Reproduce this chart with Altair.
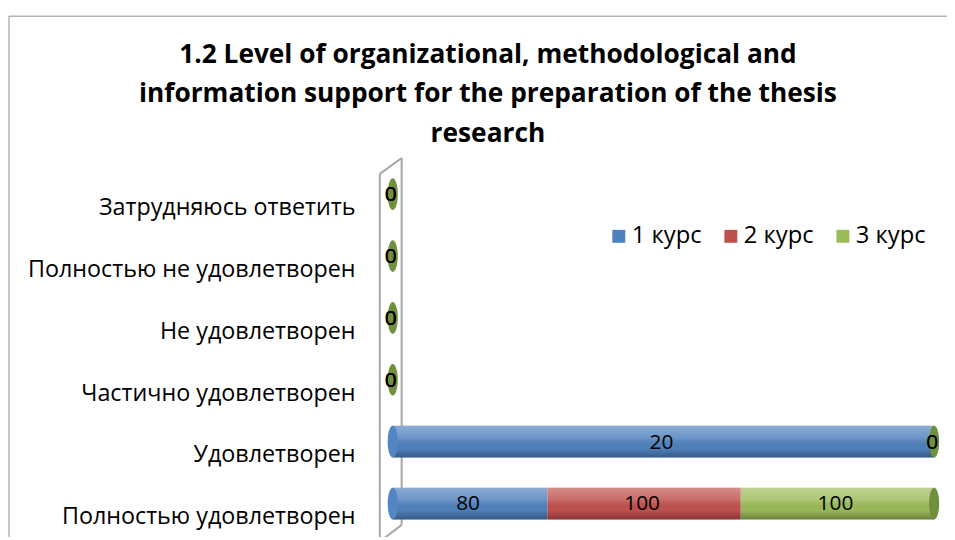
import altair as alt
import pandas as pd

categories = ["Затрудняюсь ответить", "Полностью не удовлетворен", "Не удовлетворен",
              "Частично удовлетворен", "Удовлетворен", "Полностью удовлетворен"]
series = ["1 курс", "2 курс", "3 курс"]
course1 = [0, 0, 0, 0, 20, 80]
course2 = [0, 0, 0, 0, 0, 100]
course3 = [0, 0, 0, 0, 0, 100]
colors = ["#4F81BD", "#C0504D", "#9BBB59"]
title_lines = ["1.2 Level of organizational, methodological and",
               "information support for the preparation of the thesis",
               "research"]

rows = []
for s_i, (s, vals) in enumerate(zip(series, [course1, course2, course3])):
    for c, v in zip(categories, vals):
        rows.append({"category": c, "series": s, "order": s_i, "value": v})
df = pd.DataFrame(rows)

FONT = "Open Sans"
W, H = 546, 375

base = alt.Chart(df).transform_joinaggregate(
    total="sum(value)", groupby=["category"]
).transform_calculate(
    pct="datum.total > 0 ? datum.value / datum.total : 0"
).transform_stack(
    stack="pct", as_=["x0", "x1"], groupby=["category"], sort=[alt.SortField("order")]
).transform_calculate(
    mid="(datum.x0 + datum.x1) / 2"
)

xs = alt.Scale(domain=[0, 1])
ys = alt.Scale(domain=categories, paddingInner=0.49, paddingOuter=0.25)

yenc = alt.Y("category:N", scale=ys, sort=categories, title=None,
             axis=alt.Axis(domain=False, ticks=False, grid=False, labelFont=FONT,
                           labelFontSize=23.5, labelColor="#000", labelPadding=38,
                           labelOffset=14, labelLimit=400))

bars = base.mark_bar(size=32).encode(
    x=alt.X("x0:Q", scale=xs, axis=None),
    x2="x1:Q",
    y=yenc,
    color=alt.Color("series:N", scale=alt.Scale(domain=series, range=colors),
                    legend=alt.Legend(title=None, orient="none", direction="horizontal",
                                      legendX=216, legendY=62, labelFont=FONT,
                                      labelFontSize=24, labelColor="#000",
                                      symbolType="square", symbolSize=170,
                                      symbolStrokeWidth=0, columnPadding=17,
                                      labelOffset=1)),
)

shade = base.mark_bar(size=32).encode(
    x=alt.X("x0:Q", scale=xs, axis=None),
    x2="x1:Q",
    y=yenc,
    color=alt.value(alt.Gradient(
        gradient="linear", x1=0, y1=0, x2=0, y2=1,
        stops=[alt.GradientStop(color="rgba(255,255,255,0.35)", offset=0),
               alt.GradientStop(color="rgba(255,255,255,0.15)", offset=0.4),
               alt.GradientStop(color="rgba(0,0,0,0)", offset=0.7),
               alt.GradientStop(color="rgba(0,0,0,0.30)", offset=1)])),
)

ELLIPSE = "M0,-1 A0.32,1 0 1,1 0,1 A0.32,1 0 1,1 0,-1 Z"

left_caps = base.transform_filter(
    "datum.order == 0 && datum.value > 0"
).mark_point(shape=ELLIPSE, filled=True, size=1024, opacity=1, color="#5486C6").encode(
    x=alt.X("x0:Q", scale=xs, axis=None),
    y=yenc,
)

right_caps = base.transform_filter(
    "datum.order == 2"
).mark_point(shape=ELLIPSE, filled=True, size=1024, opacity=1, color="#71903D").encode(
    x=alt.X("x1:Q", scale=xs, axis=None),
    y=yenc,
)

labels = base.mark_text(font=FONT, fontSize=21, color="#000", baseline="middle", dy=1, dx=-2).encode(
    x=alt.X("mid:Q", scale=xs, axis=None),
    y=yenc,
    text=alt.Text("value:Q"),
)

one = alt.Chart(pd.DataFrame({"a": [0]}))
GRAY = "#A6A6A6"
wall = alt.layer(
    one.mark_rule(color=GRAY, strokeWidth=2).encode(x=alt.value(-13), y=alt.value(11), y2=alt.value(400)),
    one.mark_rule(color=GRAY, strokeWidth=2).encode(x=alt.value(9), y=alt.value(-5), y2=alt.value(365)),
    one.mark_rule(color=GRAY, strokeWidth=2).encode(x=alt.value(-13), x2=alt.value(9), y=alt.value(11), y2=alt.value(-5)),
    one.mark_rule(color=GRAY, strokeWidth=2).encode(x=alt.value(9), x2=alt.value(-8), y=alt.value(365), y2=alt.value(378)),
)
border = alt.layer(
    one.mark_rule(color="#8C8C8C", strokeWidth=1).encode(x=alt.value(-387), x2=alt.value(600), y=alt.value(-148)),
    one.mark_rule(color="#8C8C8C", strokeWidth=1).encode(x=alt.value(-387), y=alt.value(-148), y2=alt.value(400)),
)

chart = alt.layer(border, wall, bars, shade, left_caps, right_caps, labels).properties(
    width=W, height=H,
    autosize=alt.AutoSizeParams(type="none"),
    padding={"left": 388, "top": 154, "right": 13, "bottom": 0},
    title=alt.Title(title_lines, font=FONT, fontSize=26.5, fontWeight="bold", color="#000",
                    anchor="middle", frame="group", dx=-177, dy=133, offset=0, lineHeight=40),
).configure(background="white", view=alt.ViewConfig(strokeWidth=0, stroke="transparent"))

chart.save("out.html", embed_options={"renderer": "svg", "actions": False})
